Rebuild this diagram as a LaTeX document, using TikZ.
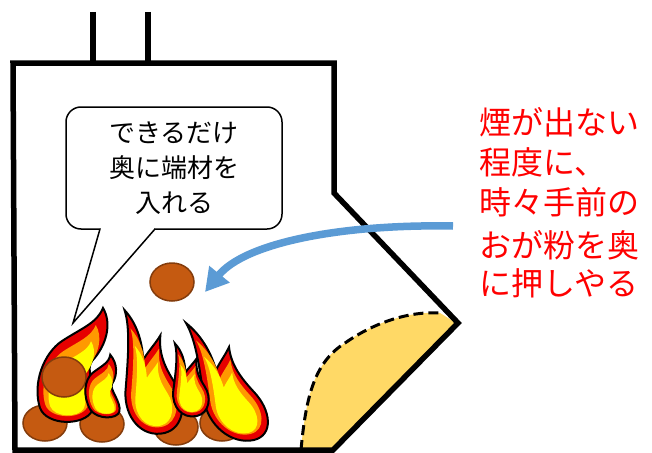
\documentclass[tikz,border=0pt]{standalone}
\usepackage{fontspec}
\setmainfont{Noto Sans CJK JP}
\usetikzlibrary{arrows.meta}

\definecolor{logbrown}{HTML}{C55A11}
\definecolor{logedge}{HTML}{843C0C}
\definecolor{flamered}{HTML}{E60000}
\definecolor{flameorange}{HTML}{FF9900}
\definecolor{flameyellow}{HTML}{FFFF00}
\definecolor{pushblue}{HTML}{5B9BD5}
\definecolor{sawdust}{HTML}{FFD966}

% flame outlines, base of the flame at the origin (y grows downwards)
\newcommand\flametwin{(-60,-117) .. controls (-45,-105) and (-35,-88) .. (-30,-70)
    .. controls (-25,-80) and (-20,-86) .. (-17,-93)
    .. controls (-15,-75) and (-5,-62) .. (8,-48)
    .. controls (25,-30) and (28,-5) .. (8,0)
    .. controls (-15,5) and (-38,-15) .. (-42,-40)
    .. controls (-46,-70) and (-50,-100) .. (-60,-117) -- cycle}
\newcommand\flamecurl{(26,-115) .. controls (35,-100) and (30,-78) .. (15,-62)
    .. controls (7,-52) and (23,-30) .. (15,-12)
    .. controls (7,3) and (-30,3) .. (-37,-15)
    .. controls (-45,-40) and (-33,-70) .. (-15,-82)
    .. controls (5,-95) and (20,-100) .. (26,-115) -- cycle}
\newcommand\flamelayers[1]{
    \filldraw[flame edge] #1;
    \fill[flameorange, shift={(-10,-30)}, scale=0.8, shift={(10,30)}] #1;
    \fill[flameyellow, shift={(-8,-20)}, scale=0.65, shift={(8,20)}] #1;
}

\tikzset{
    stove/.style={line width=5.5, line join=miter},
    log/.style={fill=logbrown, draw=logedge, line width=1.5},
    flame edge/.style={draw=black, line width=2, fill=flamered},
    flame/.pic={\flamelayers\flametwin},
    flame curl/.pic={\flamelayers\flamecurl},
    bubble/.style={draw, fill=white, line width=1.5, rounded corners=15,
        minimum width=216, minimum height=122, inner sep=0, align=center,
        font=\fontsize{26}{35}\selectfont},
    note/.style={text=red, align=left, inner sep=0,
        font=\fontsize{32}{40}\selectfont},
    push arrow/.style={draw=pushblue, line width=7.5,
        -{Triangle[length=23pt, width=25pt]}},
}

\begin{document}
\begin{tikzpicture}[x=1pt, y=-1pt]
    \useasboundingbox (0,0) rectangle (652,452);
    \fill[white] (0,0) rectangle (652,452);

    % sawdust pile in the mouth
    \fill[sawdust] (301,450) .. controls (306,395) and (315,362) .. (345,343)
        .. controls (375,322) and (410,311) .. (440,313) -- (456,323) -- (333,450) -- cycle;
    \draw[line width=3, dash pattern=on 10pt off 5pt] (301,450)
        .. controls (306,395) and (315,362) .. (345,343)
        .. controls (375,322) and (410,311) .. (440,313);

    % stove body and chimneys
    \draw[stove] (13,63) -- (334,63) -- (334,193) -- (458,323) -- (333,450) -- (15,450) -- cycle;
    \draw[stove] (93,12) -- (93,63);
    \draw[stove] (148,12) -- (148,63);

    % speech bubble
    \node[bubble] (msg) at (174,168) {できるだけ\\奥に端材を\\入れる};
    \coordinate (tailL) at (100,229);
    \coordinate (tailR) at (155,229);
    \coordinate (tailtip) at (73,323);
    \fill[white] (tailL) -- (tailtip) -- (tailR) -- cycle;
    \fill[white] (101,226) rectangle (154,232);
    \draw[line width=1.5, line join=miter] (tailL) -- (tailtip) -- (tailR);

    % logs behind the fire
    \foreach \x/\y in {45/423, 102/424, 176/427, 222/423}{
        \filldraw[log] (\x,\y) ellipse [x radius=22, y radius=18];
    }

    % fire
    \pic at (246,440) {flame};
    \pic[xslant=0.2, xscale=0.95, yscale=1.05] at (157,433) {flame};
    \pic[xslant=0.26, xscale=0.6, yscale=0.62] at (192,416) {flame};
    \pic at (77,423) {flame curl};
    \filldraw[log] (64,377) ellipse [x radius=22, y radius=20];
    \pic[xslant=-0.27, scale=0.55] at (113,418) {flame curl};

    % log waiting at the back
    \filldraw[log] (172,282) ellipse [x radius=22, y radius=19];

    % push the sawdust back
    \coordinate (push) at (453,226);
    \coordinate (dest) at (205,292);
    \draw[push arrow] (push) .. controls (340,224) and (245,243) .. (dest);

    \node[note, anchor=west] (hint) at (479,162) {煙が出ない\\程度に、\\時々手前の};
    \node[note, anchor=west, font=\fontsize{32}{38}\selectfont] (hint2) at (479,264) {おが粉を奥\\に押しやる};
\end{tikzpicture}
\end{document}
